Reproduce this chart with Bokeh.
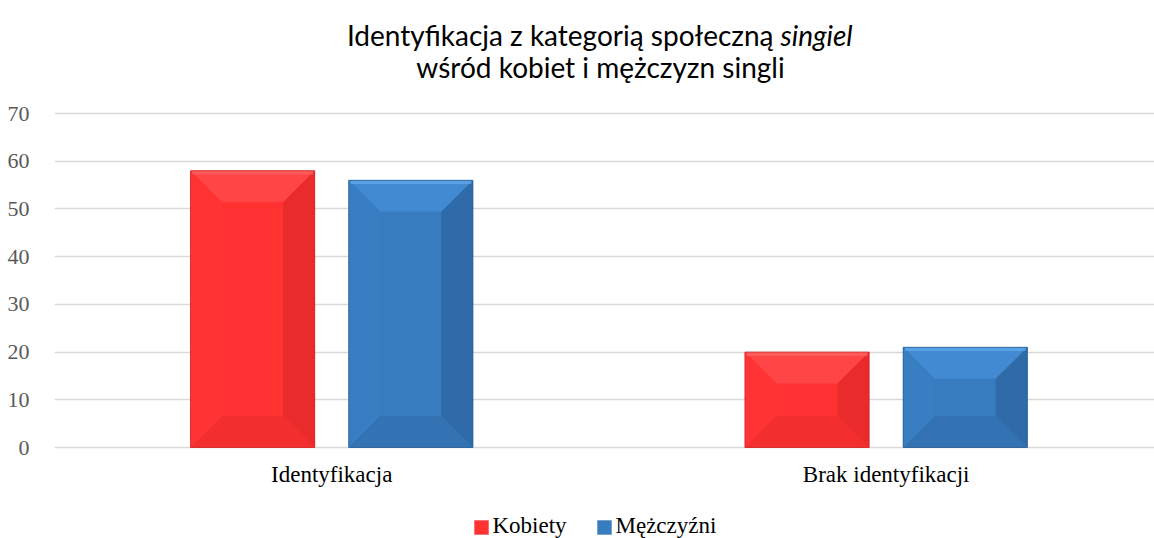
import numpy as np
from bokeh.plotting import figure
from bokeh.models import Range1d, FixedTicker, Label, BoxAnnotation
from bokeh.core.properties import value
from bokeh.embed import file_html
from bokeh.resources import INLINE

# ---- data ----
categories = ["Identyfikacja", "Brak identyfikacji"]
series_names = ["Kobiety", "Mężczyźni"]
kobiety = [58, 20]
mezczyzni = [56, 21]
y_ticks = [0, 10, 20, 30, 40, 50, 60, 70]
title_line1 = "Identyfikacja z kategorią społeczną"
title_italic = "singiel"
title_line2 = "wśród kobiet i mężczyzn singli"

# ---- styles ----
RED = dict(main="#FF3131", top="#FF4545", left="#FF3333", right="#EA2B2B", bottom="#F32E2E",
           edge="#D02525", hi="#FF6A6A")
BLUE = dict(main="#377CBF", top="#428AD1", left="#387EC2", right="#2E6BA8", bottom="#3373B4",
            edge="#2A5E94", hi="#66B0F0")

W, H = 1154, 538
FL = 54                      # frame left (page px)
PY0, PY70 = 447, 113         # page y of value 0 and value 70
ppu = (PY0 - PY70) / 70.0    # pixels per unit
y_start = -(H - PY0) / ppu
y_end = 70 + PY70 / ppu

p = figure(width=W, height=H, x_range=Range1d(0, 1.984), y_range=Range1d(y_start, y_end),
           toolbar_location=None, output_backend="svg",
           min_border_left=FL, min_border_right=0, min_border_top=0, min_border_bottom=0)
p.outline_line_color = None
p.background_fill_color = "white"
p.border_fill_color = "white"

# y axis
p.yaxis.ticker = FixedTicker(ticks=y_ticks)
p.yaxis.axis_line_color = None
p.yaxis.major_tick_line_color = None
p.yaxis.minor_tick_line_color = None
p.yaxis.major_label_text_font = "Liberation Serif"
p.yaxis.major_label_text_font_size = "22px"
p.yaxis.major_label_text_color = "#595959"
p.yaxis.major_label_standoff = 19

# x axis: category labels drawn at value 0 (the axis itself takes no room)
p.xaxis.visible = False
centers = [i + 0.5 for i in range(len(categories))]
p.text(x=centers, y=[0] * len(categories), text=categories, y_offset=27,
       text_align="center", text_baseline="alphabetic",
       text_font=value("Liberation Serif"), text_font_size="23px", text_color="#000000")

p.xgrid.visible = False
p.ygrid.ticker = FixedTicker(ticks=y_ticks)
p.ygrid.grid_line_color = "#D9D9D9"
p.ygrid.grid_line_width = 1.5

bar_w = 0.224
offset = 0.1427
bev_x = 0.057
bev_y = 6.6

def bevel_bars(vals, xs, col):
    r = p.vbar(x=xs, top=vals, bottom=0, width=bar_w, fill_color=col["main"], line_color=None)
    facets = {"top": ([], []), "left": ([], []), "right": ([], []), "bottom": ([], [])}
    for xc, v in zip(xs, vals):
        x0, x1 = xc - bar_w / 2, xc + bar_w / 2
        y0, y1 = 0, v
        facets["top"][0].append([x0, x1, x1 - bev_x, x0 + bev_x])
        facets["top"][1].append([y1, y1, y1 - bev_y, y1 - bev_y])
        facets["left"][0].append([x0, x0, x0 + bev_x, x0 + bev_x])
        facets["left"][1].append([y0, y1, y1 - bev_y, y0 + bev_y])
        facets["right"][0].append([x1, x1, x1 - bev_x, x1 - bev_x])
        facets["right"][1].append([y0, y1, y1 - bev_y, y0 + bev_y])
        facets["bottom"][0].append([x0, x1, x1 - bev_x, x0 + bev_x])
        facets["bottom"][1].append([y0, y0, y0 + bev_y, y0 + bev_y])
    for k, (fx, fy) in facets.items():
        p.patches(xs=fx, ys=fy, fill_color=col[k], line_color=None)
    # light band along the top edge
    p.vbar(x=xs, top=vals, bottom=[v - 0.8 for v in vals], width=bar_w - 0.006,
           fill_color=col["hi"], fill_alpha=0.6, line_color=None)
    p.vbar(x=xs, top=vals, bottom=0, width=bar_w, fill_alpha=0, line_color=col["edge"],
           line_width=1, line_alpha=0.8)
    return r

xs_k = [c - offset for c in centers]
xs_m = [c + offset for c in centers]
bevel_bars(kobiety, xs_k, RED)
bevel_bars(mezczyzni, xs_m, BLUE)

# ---- legend (manual, screen units relative to the frame) ----
def sx(px):
    return px - FL

def sy(py):
    return H - py

legend_specs = [(series_names[0], RED, 474, 492), (series_names[1], BLUE, 597, 615)]
for name, col, gx, tx in legend_specs:
    p.add_layout(BoxAnnotation(left=sx(gx), right=sx(gx + 14), top=sy(520), bottom=sy(534),
                               left_units="screen", right_units="screen",
                               top_units="screen", bottom_units="screen",
                               fill_color=col["main"], fill_alpha=1.0,
                               line_color=col["edge"], line_width=1))
    p.add_layout(Label(x=sx(tx), y=sy(525), x_units="screen", y_units="screen", text=name,
                       text_font="Liberation Serif", text_font_size="23px",
                       text_align="left", text_baseline="alphabetic", text_color="#000000"))

# ---- title (two lines, partly italic) ----
p.add_layout(Label(x=sx(773), y=sy(34), x_units="screen", y_units="screen", text=title_line1,
                   text_font="Lato", text_font_size="28px", text_align="right",
                   text_baseline="alphabetic", text_color="#000000"))
p.add_layout(Label(x=sx(780), y=sy(34), x_units="screen", y_units="screen", text=title_italic,
                   text_font="Lato", text_font_style="italic", text_font_size="28px",
                   text_align="left", text_baseline="alphabetic", text_color="#000000"))
p.add_layout(Label(x=sx(600), y=sy(66), x_units="screen", y_units="screen", text=title_line2,
                   text_font="Lato", text_font_size="28px", text_align="center",
                   text_baseline="alphabetic", text_color="#000000"))

open("out.html", "w").write(file_html(p, INLINE))
